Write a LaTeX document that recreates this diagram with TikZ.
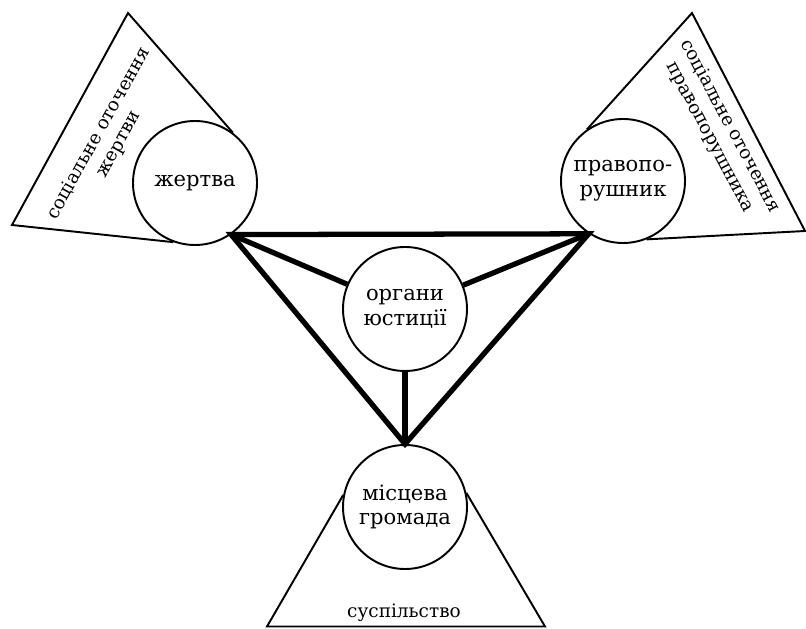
\documentclass[tikz,border=0pt]{standalone}
\usepackage{fontspec}
\setmainfont{DejaVu Serif}

\begin{document}
\begin{tikzpicture}[
		party/.style={circle,draw,line width=1.1pt,fill=white,minimum size=2.48cm,inner sep=0pt,align=center,font=\fontsize{12}{14}\selectfont},
		link/.style={line width=3pt},
		area/.style={line width=1.1pt},
		arealabel/.style={align=center,font=\fontsize{10.5}{13}\selectfont}
	]
		\useasboundingbox (0,0) rectangle (16.12,12.56);
		
		% participants
		\node[party] (victim) at (3.90,8.90) {жертва};
		\node[party] (offender) at (12.46,8.94) {правопо-\\рушник};
		\node[party] (justice) at (8.10,6.38) {органи\\юстиції};
		\node[party] (community) at (8.10,2.42) {місцева\\громада};
		
		% corners of the surroundings
		\coordinate (vtop) at (2.56,12.30);
		\coordinate (vleft) at (0.24,8.06);
		\coordinate (otop) at (13.84,12.30);
		\coordinate (oright) at (16.10,7.94);
		\coordinate (cleft) at (5.34,0.03);
		\coordinate (cright) at (10.90,0.03);
		
		% surroundings
		\draw[area] (victim.53) -- (vtop) -- (vleft) -- (victim.-110);
		\draw[area] (offender.125) -- (otop) -- (oright) -- (offender.-68);
		\draw[area] (community.169) -- (cleft) -- (cright) -- (community.13);
		
		\node[arealabel,rotate=61] (vlabel) at (2.18,9.78) {соціальне оточення\\жертви};
		\node[arealabel,rotate=-62] (olabel) at (14.40,9.92) {соціальне оточення\\правопорушника};
		\node[arealabel] (clabel) at (8.08,0.30) {суспільство};
		
		% links
		\draw[link] (victim.-55) -- (offender.-123) -- (community.90) -- cycle;
		\draw[link] (justice) -- (victim.-55);
		\draw[link] (justice) -- (offender.-123);
		\draw[link] (justice) -- (community.90);
	\end{tikzpicture}
\end{document}
